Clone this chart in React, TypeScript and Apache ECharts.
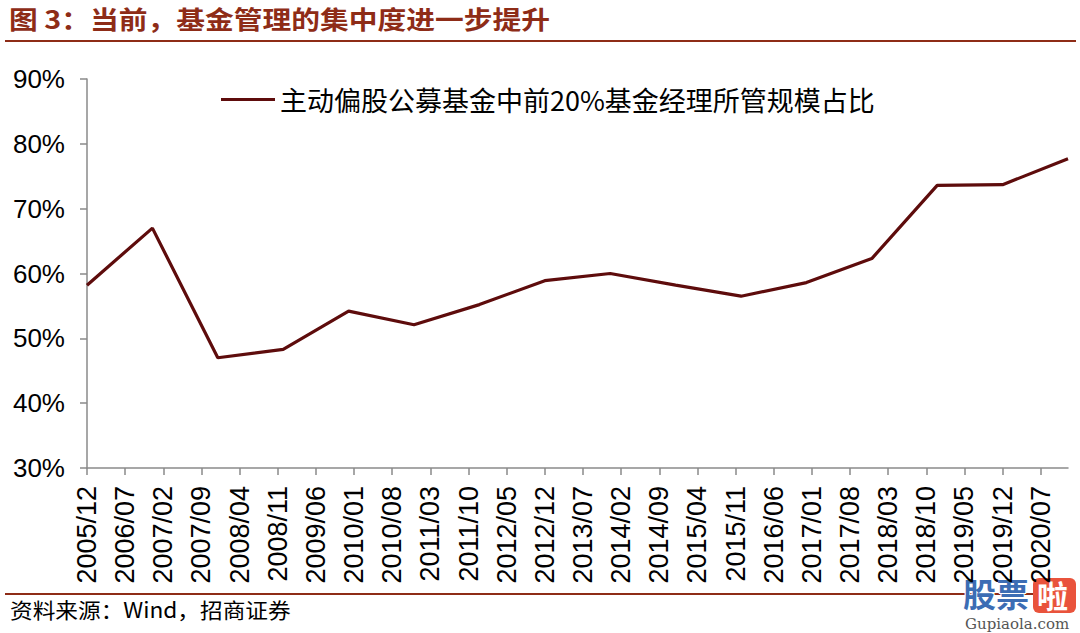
import React, { useEffect, useRef } from "react";
import * as echarts from "echarts";

const titleText = "图 3：当前，基金管理的集中度进一步提升";
const sourceText = "资料来源：Wind，招商证券";
const seriesName = "主动偏股公募基金中前20%基金经理所管规模占比";

// Observation dates (category names on the monthly axis) and values (%)
const obsDates = [
  "2005/12", "2006/12", "2007/12", "2008/12", "2009/12", "2010/12",
  "2011/12", "2012/12", "2013/12", "2014/12", "2015/12", "2016/12",
  "2017/12", "2018/12", "2019/12", "2020/12",
];
const obsValues = [
  58.2, 67.0, 47.0, 48.3, 54.2, 52.1,
  55.2, 58.9, 60.0, 58.2, 56.5, 58.6,
  62.3, 73.6, 73.7, 77.7,
];

// Monthly category axis from 2005/12 to 2020/12
const startYear = 2005;
const startMonth = 12;
const monthCount = 181;
const months: string[] = [];
for (let i = 0; i < monthCount; i++) {
  const m0 = startMonth - 1 + i;
  const y = startYear + Math.floor(m0 / 12);
  const m = (m0 % 12) + 1;
  months.push(`${y}/${m < 10 ? "0" + m : m}`);
}

const yMin = 30;
const yMax = 90;
const yStep = 10;

const LINE_COLOR = "#5E0C0C";
const TITLE_COLOR = "#8E2C17";

export default function App() {
  const ref = useRef<HTMLDivElement>(null);

  useEffect(() => {
    if (!ref.current) return;
    const chart = echarts.init(ref.current, null, { renderer: "svg" });
    const cjk = "'Noto Sans CJK SC', 'Liberation Sans', sans-serif";
    const latin = "'Liberation Sans', Arial, sans-serif";

    chart.setOption({
      animation: false,
      backgroundColor: "#ffffff",
      grid: { left: 87, right: 12, top: 79, bottom: 165, containLabel: false },
      legend: {
        show: true,
        left: 216,
        top: 81,
        icon: "rect",
        itemWidth: 54,
        itemHeight: 3,
        itemGap: 8,
        textStyle: { fontFamily: cjk, fontSize: 27, color: "#000" },
        data: [seriesName],
      },
      xAxis: {
        type: "category",
        data: months,
        boundaryGap: false,
        axisLine: { show: true, lineStyle: { color: "#8a8a8a", width: 1.5 } },
        axisTick: { show: true, interval: 6, length: 7, lineStyle: { color: "#8a8a8a", width: 1.5 } },
        axisLabel: {
          interval: 6,
          rotate: 90,
          margin: 18,
          fontFamily: latin,
          fontSize: 27,
          color: "#000",
        },
        splitLine: { show: false },
      },
      yAxis: {
        type: "value",
        min: yMin,
        max: yMax,
        interval: yStep,
        axisLine: { show: true, lineStyle: { color: "#8a8a8a", width: 1.5 } },
        axisTick: { show: true, length: 7, lineStyle: { color: "#8a8a8a", width: 1.5 } },
        axisLabel: {
          formatter: "{value}%",
          margin: 22,
          fontFamily: latin,
          fontSize: 26,
          color: "#000",
        },
        splitLine: { show: false },
      },
      series: [
        {
          name: seriesName,
          type: "line",
          data: obsDates.map((d, i) => [d, obsValues[i]]),
          symbol: "none",
          lineStyle: { color: LINE_COLOR, width: 3.2 },
          itemStyle: { color: LINE_COLOR },
        },
      ],
      graphic: [
        {
          type: "text",
          left: 9,
          top: 6,
          scaleX: 1.15,
          style: {
            text: titleText,
            fill: TITLE_COLOR,
            font: `bold 25px ${cjk}`,
          },
        },
        {
          type: "line",
          shape: { x1: 5, y1: 41, x2: 1076, y2: 41 },
          style: { stroke: TITLE_COLOR, lineWidth: 2 },
        },
        {
          type: "line",
          shape: { x1: 5, y1: 594, x2: 1076, y2: 594 },
          style: { stroke: TITLE_COLOR, lineWidth: 2 },
        },
        {
          type: "text",
          left: 10,
          top: 598,
          scaleX: 1.08,
          style: {
            text: sourceText,
            fill: "#000",
            font: `21px ${cjk}`,
          },
        },
        {
          type: "group",
          left: 962,
          top: 575,
          children: [
            {
              type: "text",
              x: 0,
              y: 0,
              style: {
                text: "股票",
                fill: "#3C6DB4",
                stroke: "#ffffff",
                lineWidth: 2,
                font: `bold 33px ${cjk}`,
              },
            },
            {
              type: "rect",
              shape: { x: 70, y: 2, width: 43, height: 35, r: 6 },
              style: { fill: "#E9533C" },
            },
            {
              type: "text",
              x: 74,
              y: 3,
              style: {
                text: "啦",
                fill: "#ffffff",
                font: `bold 31px ${cjk}`,
              },
            },
            {
              type: "text",
              x: 2,
              y: 40,
              style: {
                text: "Gupiaola.com",
                fill: "#555",
                font: `15px 'DejaVu Serif', serif`,
              },
            },
          ],
        },
      ],
    });

    return () => chart.dispose();
  }, []);

  return (
    <div
      ref={ref}
      style={{ position: "fixed", left: 0, top: 0, width: 1080, height: 633, background: "#fff" }}
    />
  );
}
